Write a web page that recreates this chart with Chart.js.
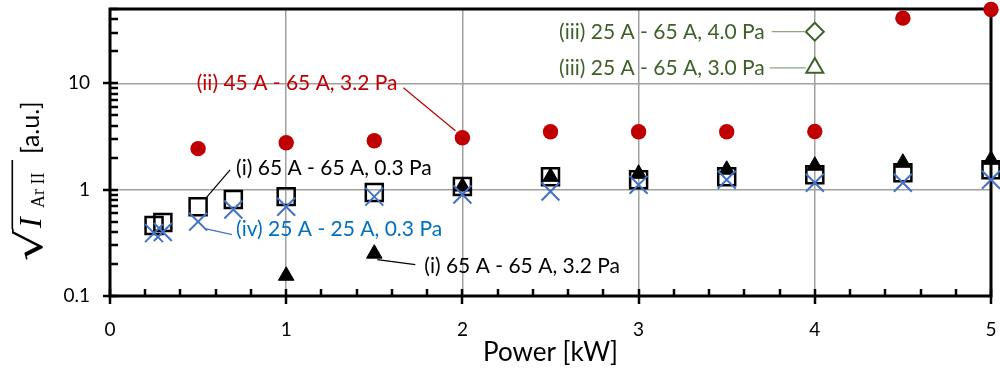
<!DOCTYPE html>
<html><head><meta charset="utf-8">
<script src="https://cdn.jsdelivr.net/npm/chart.js@4/dist/chart.umd.min.js"></script>
<style>html,body{margin:0;padding:0;background:#fff}</style>
</head><body>
<canvas id="c" width="1000" height="368"></canvas>
<script>
// ---------- data ----------
const powerIV = [0.25, 0.3, 0.5, 0.7, 1, 1.5, 2, 2.5, 3, 3.5, 4, 4.5, 5];
const valuesIV = [0.39, 0.40, 0.50, 0.65, 0.69, 0.86, 0.90, 0.96, 1.11, 1.24, 1.16, 1.16, 1.24];
const powerI03 = [0.25, 0.3, 0.5, 0.7, 1, 1.5, 2, 2.5, 3, 3.5, 4, 4.5, 5];
const valuesI03 = [0.46, 0.49, 0.69, 0.81, 0.86, 0.94, 1.07, 1.32, 1.24, 1.32, 1.38, 1.44, 1.54];
const powerI32 = [1, 1.5, 2, 2.5, 3, 3.5, 4, 4.5, 5];
const valuesI32 = [0.155, 0.25, 1.07, 1.32, 1.41, 1.54, 1.68, 1.79, 1.91];
const powerII = [0.5, 1, 1.5, 2, 2.5, 3, 3.5, 4, 4.5, 5];
const valuesII = [2.43, 2.76, 2.88, 3.08, 3.5, 3.5, 3.5, 3.52, 41, 49.5];
const powerIII = [4];
const valuesIII40 = [30.6];
const valuesIII30 = [14.0];
const xTickValues = [0, 1, 2, 3, 4, 5];
const yTickValues = [0.1, 1, 10];
const xRange = [0, 5];
const yRange = [0.1, 50];
const xTitle = 'Power [kW]';

const labelII = '(ii) 45 A - 65 A, 3.2 Pa';
const labelI03 = '(i) 65 A - 65 A, 0.3 Pa';
const labelIV = '(iv) 25 A - 25 A, 0.3 Pa';
const labelI32 = '(i) 65 A - 65 A, 3.2 Pa';
const labelIII40 = '(iii) 25 A - 65 A, 4.0 Pa';
const labelIII30 = '(iii) 25 A - 65 A, 3.0 Pa';

// ---------- styling ----------
const RED = '#C00000', BLUE_MARK = '#4472C4', BLUE_TXT = '#0070C0';
const GREEN = '#3f6129', GREEN_LINE = '#8fa67c';
const FONT = 'Lato, Carlito, "Open Sans", sans-serif';

function pts(xs, ys) { return xs.map((x, i) => ({x, y: ys[i]})); }

const annotations = [
  {ds: 3, pt: 3, text: labelII, color: RED, line: RED, align: 'right', tdx: -65, tdy: -54, l: [-7, -7, -59, -50]},
  {ds: 2, pt: 2, text: labelI03, color: '#000', line: '#000', align: 'left', tdx: 38, tdy: -39, l: [8, -9, 32, -37]},
  {ds: 0, pt: 2, text: labelIV, color: BLUE_TXT, line: BLUE_MARK, align: 'left', tdx: 38, tdy: 8, l: [7, 7, 34, 13]},
  {ds: 1, pt: 1, text: labelI32, color: '#000', line: '#000', align: 'left', tdx: 50, tdy: 13, l: [3, 6, 41, 11]},
  {ds: 4, pt: 0, text: labelIII40, color: GREEN, line: GREEN_LINE, align: 'right', tdx: -50, tdy: 1, l: [-9, 0, -43, 0]},
  {ds: 5, pt: 0, text: labelIII30, color: GREEN, line: GREEN_LINE, align: 'right', tdx: -50, tdy: 0, l: [-9, 0, -45, 0]},
];

const decorPlugin = {
  id: 'decor',
  beforeDatasetsDraw(chart) {
    const {ctx, chartArea: a, scales: {x, y}} = chart;
    ctx.save();
    ctx.strokeStyle = '#000';
    ctx.lineWidth = 3;
    ctx.strokeRect(a.left, a.top, a.right - a.left, a.bottom - a.top);
    ctx.lineWidth = 2.5;
    ctx.beginPath();
    for (let v = xRange[0]; v <= xRange[1] + 1e-9; v += 0.2) {
      const px = Math.round(x.getPixelForValue(v));
      const major = Math.abs(v - Math.round(v)) < 1e-6;
      ctx.moveTo(px, a.bottom - 7);
      ctx.lineTo(px, a.bottom + (major ? 8 : 0));
    }
    for (let d = -1; d <= 1; d++) {
      for (let m = 1; m <= 9; m++) {
        const v = m * Math.pow(10, d);
        if (v < yRange[0] - 1e-9 || v > yRange[1] + 1e-9) continue;
        const py = Math.round(y.getPixelForValue(v));
        ctx.moveTo(a.left + 8, py);
        ctx.lineTo(a.left - (m === 1 ? 7 : 0), py);
      }
    }
    ctx.stroke();
    ctx.restore();
  },
  afterDatasetsDraw(chart) {
    const {ctx} = chart;
    ctx.save();
    ctx.font = '21px ' + FONT;
    ctx.textBaseline = 'middle';
    annotations.forEach(an => {
      const el = chart.getDatasetMeta(an.ds).data[an.pt];
      const px = el.x, py = el.y;
      ctx.strokeStyle = an.line;
      ctx.lineWidth = 1.2;
      ctx.beginPath();
      ctx.moveTo(px + an.l[0], py + an.l[1]);
      ctx.lineTo(px + an.l[2], py + an.l[3]);
      ctx.stroke();
      ctx.fillStyle = an.color;
      ctx.textAlign = an.align;
      ctx.fillText(an.text, px + an.tdx, py + an.tdy);
    });
    ctx.restore();
  },
  afterDraw(chart) {
    const {ctx} = chart;
    ctx.save();
    ctx.translate(41, 260);
    ctx.rotate(-Math.PI / 2);
    ctx.fillStyle = '#000';
    ctx.strokeStyle = '#000';
    ctx.textAlign = 'left';
    ctx.textBaseline = 'alphabetic';
    ctx.font = '40px "DejaVu Sans"';
    const m = ctx.measureText('\u221A');
    const gw = m.actualBoundingBoxLeft + m.actualBoundingBoxRight;
    const gh = m.actualBoundingBoxAscent + m.actualBoundingBoxDescent;
    const bx0 = 0, bx1 = 32, by0 = -29.5, by1 = 2;
    ctx.save();
    ctx.translate(bx0, by0);
    ctx.scale((bx1 - bx0) / gw, (by1 - by0) / gh);
    ctx.fillText('\u221A', m.actualBoundingBoxLeft, m.actualBoundingBoxAscent);
    ctx.restore();
    ctx.font = 'italic 32px "Liberation Serif"';
    ctx.fillText('I', 32, 0);
    ctx.font = '18px "Liberation Serif"';
    ctx.fillText('Ar II', 52, 3);
    ctx.lineWidth = 1.6;
    ctx.beginPath();
    ctx.moveTo(31, -28.7);
    ctx.lineTo(100, -28.7);
    ctx.stroke();
    ctx.font = '25px ' + FONT;
    ctx.fillText('[a.u.]', 106, -2);
    ctx.restore();
  }
};

const ctx = document.getElementById('c').getContext('2d');
new Chart(ctx, {
  type: 'scatter',
  data: {
    datasets: [
      {label: 'iv', data: pts(powerIV, valuesIV), pointStyle: 'crossRot', pointRadius: 12.7,
       borderColor: BLUE_MARK, backgroundColor: BLUE_MARK, pointBorderWidth: 2, clip: false},
      {label: 'i32', data: pts(powerI32, valuesI32), pointStyle: 'triangle', pointRadius: 9,
       borderColor: '#000', backgroundColor: '#000', pointBorderWidth: 1, clip: false},
      {label: 'i03', data: pts(powerI03, valuesI03), pointStyle: 'rect', pointRadius: 12,
       borderColor: '#000', backgroundColor: 'rgba(0,0,0,0)', pointBorderWidth: 2.5, clip: false},
      {label: 'ii', data: pts(powerII, valuesII), pointStyle: 'circle', pointRadius: 7.7,
       borderColor: RED, backgroundColor: RED, pointBorderWidth: 0, clip: false},
      {label: 'iii40', data: pts(powerIII, valuesIII40), pointStyle: 'rectRot', pointRadius: 9,
       borderColor: GREEN, backgroundColor: '#fff', pointBorderWidth: 2, clip: false},
      {label: 'iii30', data: pts(powerIII, valuesIII30), pointStyle: 'triangle', pointRadius: 9.8,
       borderColor: GREEN, backgroundColor: '#fff', pointBorderWidth: 2, clip: false},
    ]
  },
  options: {
    responsive: false,
    animation: false,
    events: [],
    layout: {autoPadding: false, padding: {left: 0, right: 9, top: 9, bottom: 0}},
    plugins: {legend: {display: false}, tooltip: {enabled: false}},
    scales: {
      x: {
        type: 'linear', min: xRange[0], max: xRange[1],
        afterBuildTicks: s => { s.ticks = xTickValues.map(v => ({value: v})); },
        afterFit: s => { s.height = 72; s.paddingLeft = 0; s.paddingRight = 0; },
        grid: {drawTicks: false, color: c => (c.tick && (c.tick.value === xRange[0] || c.tick.value === xRange[1])) ? 'rgba(0,0,0,0)' : '#a0a0a0', lineWidth: 1.5},
        border: {display: false},
        ticks: {padding: 22, color: '#000', font: {family: FONT, size: 19}, maxRotation: 0, autoSkip: false, callback: v => String(v)},
        title: {display: true, text: xTitle, color: '#000', font: {family: FONT, size: 26}, padding: {top: 0, bottom: 0}}
      },
      y: {
        type: 'logarithmic', min: yRange[0], max: yRange[1],
        afterBuildTicks: s => { s.ticks = yTickValues.map(v => ({value: v})); },
        afterFit: s => { s.width = 110; s.paddingTop = 0; s.paddingBottom = 0; },
        grid: {drawTicks: false, color: c => (c.tick && c.tick.value === yRange[0]) ? 'rgba(0,0,0,0)' : '#a0a0a0', lineWidth: 1.5},
        border: {display: false},
        ticks: {padding: 20, color: '#000', font: {family: FONT, size: 19}, autoSkip: false, callback: v => String(v)}
      }
    }
  },
  plugins: [decorPlugin]
});
</script>
</body></html>
